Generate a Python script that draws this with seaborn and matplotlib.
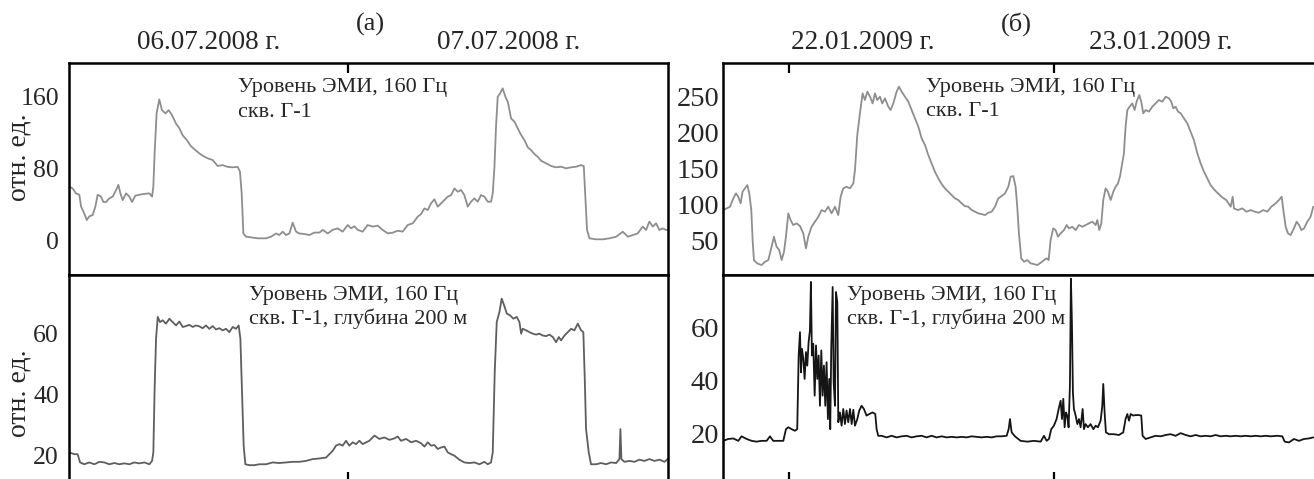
import matplotlib
matplotlib.use("Agg")
import matplotlib.pyplot as plt
import seaborn as sns

# ---------------- DATA ----------------
# Panel (a): 06.07.2008 - 07.07.2008, time in hours since 06.07.2008 00:00
a_top_time = [4.36, 4.39, 4.63, 4.86, 5.10, 5.22, 5.45, 5.62, 5.80, 6.04, 6.23, 6.39, 6.62, 6.79, 6.98, 7.21, 7.45, 7.68,
              7.85, 7.99, 8.15, 8.39, 8.62, 8.81, 9.04, 9.32, 9.68, 10.03, 10.22, 10.31, 10.40, 10.54, 10.73, 10.92,
              11.16, 11.39, 11.62, 11.91, 12.14, 12.38, 12.66, 12.96, 13.27, 13.55, 13.83, 14.14, 14.49, 14.84, 15.19,
              15.55, 15.90, 16.25, 16.41, 16.53, 16.65, 16.84, 17.19, 17.66, 18.24, 18.60, 18.95, 19.18, 19.42, 19.65,
              19.89, 20.12, 20.36, 20.59, 20.94, 21.30, 21.65, 22.00, 22.24, 22.59, 22.94, 23.29, 23.64, 24.00, 24.23,
              24.47, 24.70, 25.05, 25.40,
              25.76, 26.11, 26.46, 26.82, 27.17, 27.52, 27.87, 28.22, 28.58, 28.93, 29.16, 29.40, 29.63, 29.87, 30.10,
              30.34, 30.57, 30.81, 31.04, 31.28, 31.51, 31.75, 31.98, 32.21, 32.45, 32.68, 32.92, 33.15, 33.39, 33.62,
              33.86, 34.09, 34.21, 34.33, 34.44, 34.56, 34.73, 34.91, 35.10, 35.27, 35.50, 35.74, 35.97, 36.21, 36.44,
              36.68, 36.91, 37.14, 37.38, 37.61, 37.97, 38.32, 38.67, 39.02, 39.37, 39.73, 40.08, 40.43, 40.62, 40.74,
              40.85, 41.02, 41.49, 41.96, 42.43, 42.90, 43.37, 43.72, 44.07, 44.42, 44.77, 45.01, 45.24, 45.48, 45.71,
              45.95, 46.18, 46.42, 46.53]
a_top_level = [62, 60, 58, 52.6, 51, 38, 30, 23, 27, 28.5, 38, 51, 49, 43, 43, 47, 49, 56,
               62, 52.6, 45, 52.6, 49, 43, 50, 51, 52, 52.6, 49, 60, 97, 141.5, 157, 145,
               141.5, 145, 139.6, 130, 125, 117, 112, 105, 100.7, 97, 94, 91.5, 89.6, 83, 84,
               82, 81.5, 82, 76.7, 52.6, 8, 4.4, 3.7, 2.6, 2.6, 4.4, 8, 6.3, 10, 6.3,
               8, 20, 10, 8, 7.4, 6.3, 9, 9, 12, 8, 12, 13.7, 10, 17.4, 13.7,
               16, 12, 10, 17.4,
               15.6, 16.7, 11.9, 8.1, 8.9, 11.1, 10, 17.4, 19.3, 26.7, 29.6, 35.9, 34, 41.5, 46,
               37.8, 41.5, 45.2, 48.9, 50.7, 58.1, 54.4, 56.3, 50.7, 37.8, 43.3, 47, 43.3, 50.7, 48.9,
               43.3, 43.3, 52.6, 82.2, 126.7, 160, 163.7, 169.3, 160, 154.4, 135.9, 132.2, 124.8, 117.4, 111.9,
               103.7, 100.7, 96.3, 93.3, 88.9, 85.9, 83, 81.5, 82.2, 80.4, 81.5, 82.2, 84, 83, 45.2,
               11.9, 2.6, 1.5, 1.5, 2.6, 4.4, 10, 4.4, 6.3, 8.1, 15.6, 11.9, 21.1, 15.6, 19.3,
               11.9, 13.7, 11.9, 12]

a_bot_time = [4.36, 4.39, 4.75, 4.98, 5.15, 5.45, 5.80, 6.16, 6.51, 6.86, 7.21, 7.56, 7.92, 8.27, 8.62, 8.97, 9.32,
              9.68, 10.03, 10.22, 10.31, 10.40, 10.50, 10.62, 10.78, 10.97, 11.20, 11.44, 11.67, 11.91, 12.14, 12.38,
              12.61, 12.85, 13.08, 13.31, 13.55, 13.78, 14.02, 14.25, 14.49, 14.72, 14.96, 15.19, 15.43, 15.66, 15.90,
              16.13, 16.32, 16.44, 16.55, 16.67, 16.79, 17.07, 17.42, 17.77, 18.24, 18.71, 19.18, 19.65, 20.12, 20.59,
              21.06, 21.53, 22.00, 22.47, 22.70, 22.94, 23.17, 23.41, 23.64, 23.88, 24.11, 24.35, 24.58, 24.82, 25.05,
              25.40,
              25.52, 25.88, 26.23, 26.58, 26.93, 27.29, 27.52, 27.75, 28.11, 28.46, 28.81, 29.16, 29.40, 29.63, 29.87,
              30.10, 30.34, 30.57, 30.81, 31.04, 31.28, 31.51, 31.86, 32.21, 32.57, 32.92, 33.27, 33.62, 33.86, 34.09,
              34.21, 34.35, 34.49, 34.68, 34.84, 35.01, 35.20, 35.43, 35.67, 35.90, 36.09, 36.21, 36.32, 36.56, 36.79,
              37.03, 37.26, 37.50, 37.73, 37.97, 38.20, 38.44, 38.67, 38.86, 39.02, 39.26, 39.49, 39.73, 39.96, 40.20,
              40.43, 40.59, 40.69, 40.78, 40.97, 41.13, 41.49, 41.84, 42.19, 42.54, 42.90, 43.13, 43.20, 43.27, 43.48,
              43.83, 44.19, 44.54, 44.89, 45.24, 45.60, 45.95, 46.30, 46.53]
a_bot_level = [21.5, 20.9, 20.3, 20.3, 17.6, 17.0, 17.6, 17.0, 17.8, 17.6, 17.0, 17.4, 17.0, 17.3, 17.0, 17.6, 17.3,
               17.6, 17.0, 18.1, 20.9, 41.7, 58.1, 65.3, 63.6, 64.2, 63.1, 64.7, 63.6, 62.5, 63.8, 62.0,
               62.3, 62.7, 62.0, 62.5, 62.2, 61.6, 62.5, 61.4, 62.3, 61.2, 61.6, 60.9, 61.4, 60.3, 62.0,
               61.4, 62.5, 58.1, 41.7, 23.1, 17.0, 16.7, 16.7, 17.0, 17.0, 17.6, 17.4, 17.6, 17.8, 17.8,
               18.1, 18.7, 18.9, 19.2, 20.3, 21.4, 23.1, 23.6, 23.1, 24.7, 23.1, 24.2, 23.6, 24.7, 23.6,
               24.4,
               24.7, 26.4, 25.3, 25.8, 25.0, 25.5, 26.1, 24.7, 25.3, 24.2, 24.7, 23.9, 22.8, 24.2, 23.1,
               23.3, 22.0, 22.5, 22.8, 20.9, 20.3, 19.8, 18.5, 17.6, 17.4, 17.6, 17.0, 17.8, 17.0, 17.6,
               20.9, 47.2, 63.6, 66.9, 71.3, 69.1, 66.4, 65.8, 64.7, 65.3, 63.6, 59.8, 61.4, 60.9, 60.3,
               59.8, 59.5, 59.8, 59.2, 59.0, 59.5, 58.7, 57.0, 58.7, 57.6, 59.2, 60.3, 61.4, 60.9, 63.1,
               60.9, 60.3, 45.0, 28.5, 20.9, 17.0, 17.0, 17.4, 17.0, 17.6, 17.4, 18.7, 28.5, 18.7, 17.8,
               18.1, 17.8, 18.5, 18.1, 18.7, 18.1, 18.5, 17.8, 18.7]

# Panel (б): 22.01.2009 - 23.01.2009, time in hours since 22.01.2009 00:00
b_top_time = [-6.00, -5.95, -5.65, -5.34, -5.04, -4.80, -4.59, -4.38, -4.20, -3.99, -3.77, -3.59, -3.41, -3.29, -3.17,
              -2.87, -2.48, -2.17, -1.87, -1.57, -1.36, -1.12, -0.88, -0.66, -0.45, -0.27, -0.06, 0.15, 0.39, 0.69,
              1.00, 1.30, 1.54, 1.75, 2.05, 2.36, 2.66, 2.96, 3.26, 3.56, 3.86, 4.17, 4.47, 4.68, 4.92, 5.22, 5.53,
              5.83, 5.98, 6.19, 6.43, 6.67, 6.88, 7.10, 7.34, 7.58, 7.79, 8.00, 8.24, 8.45, 8.70, 9.00, 9.21, 9.45,
              9.75, 9.96, 10.21, 10.51, 10.81, 11.11, 11.41, 11.72, 12.02, 12.32, 12.62, 12.92, 13.22, 13.53, 13.83,
              14.13, 14.43, 14.73, 15.04, 15.34, 15.64, 15.94, 16.24, 16.55, 16.85, 17.15, 17.45, 17.75, 18.06, 18.36,
              18.66, 18.96, 19.26, 19.57, 19.87, 20.08, 20.32,
              20.53, 20.68, 20.83, 21.04, 21.29, 21.59, 21.89, 22.19, 22.49, 22.80, 23.10, 23.34, 23.52, 23.70, 23.94,
              24.15, 24.37, 24.61, 24.91, 25.15, 25.36, 25.66, 25.97, 26.27, 26.57, 26.87, 27.17, 27.48, 27.78, 27.93,
              28.11, 28.29, 28.47, 28.68, 28.89, 29.14, 29.38, 29.59, 29.80, 29.98, 30.19, 30.34, 30.49, 30.65, 30.86,
              31.10, 31.31, 31.49, 31.73, 31.91, 32.09, 32.31, 32.61, 32.91, 33.21, 33.51, 33.82, 34.12, 34.42, 34.63,
              34.81, 35.02, 35.24, 35.48, 35.78, 36.08, 36.38, 36.68, 36.99, 37.29, 37.59, 37.89, 38.19, 38.50, 38.86,
              39.25, 39.61, 40.01, 40.19, 40.31, 40.67, 41.06, 41.45, 41.82, 42.18, 42.57, 42.96, 43.33, 43.69, 44.08,
              44.38, 44.63, 44.78, 44.99, 45.20, 45.44, 45.74, 45.98, 46.20, 46.41, 46.65, 46.95, 47.25, 47.49]
b_top_level = [92, 92.6, 94.9, 97.2, 108.8, 115.7, 111.1, 101.9, 118.1, 122.7, 127.3, 115.7, 92.6, 50.9, 23.1,
               18.5, 16.2, 20.8, 23.1, 41.7, 55.6, 41.7, 37.0, 23.1, 34.7, 55.6, 88.0, 78.7, 71.8, 74.1,
               70.4, 60.2, 39.4, 55.6, 69.4, 76.4, 83.3, 92.6, 90.3, 97.2, 88.0, 97.2, 85.6, 111.1, 122.7, 125.0, 122.7,
               129.6, 148.1, 196.8, 226.9, 254.6, 245.4, 256.9, 250.0, 240.7, 254.6, 245.4, 250.0, 240.7, 247.7, 236.1,
               231.5, 240.7, 256.9, 263.9, 256.9, 250.0, 243.1, 231.5, 219.9, 208.3, 192.1, 182.9, 169.0, 157.4, 145.8,
               136.6, 128.7, 122.7, 118.1, 113.4, 108.8, 106.5, 101.9, 98.1, 97.2, 92.6, 90.3, 88.0, 87.0, 85.6, 88.9,
               90.3, 97.2, 108.8, 112.0, 115.7, 125.0, 138.9, 139.8,
               125.0, 97.2, 60.2, 25.5, 20.8, 23.1, 18.5, 17.6, 16.2, 19.4, 23.1, 25.5, 23.1, 50.9, 67.1,
               64.8, 55.6, 60.2, 64.8, 71.8, 67.1, 69.4, 64.8, 71.8, 69.4, 71.8, 74.1, 76.4, 71.8, 78.7,
               64.8, 74.1, 106.5, 122.7, 118.1, 106.5, 118.1, 125.0, 129.6, 138.9, 157.4, 171.3, 208.3, 231.5, 236.1,
               240.7, 231.5, 243.1, 252.3, 243.1, 226.9, 231.5, 229.2, 236.1, 240.7, 245.4, 243.1, 250.0, 247.7, 243.1,
               233.8, 236.1, 229.2, 226.9, 219.9, 213.0, 201.4, 189.8, 171.3, 157.4, 145.8, 136.6, 127.3, 121.3, 115.7,
               110.2, 106.5, 97.2, 111.1, 94.9, 92.6, 94.9, 90.3, 92.6, 90.3, 88.9, 92.6, 90.3, 97.2, 101.9,
               106.5, 111.1, 92.6, 69.4, 60.2, 57.9, 67.1, 76.4, 71.8, 64.8, 67.1, 76.4, 83.3, 97.2]

b_bot_time = [-6.00, -5.95, -5.50, -5.04, -4.59, -4.29, -3.83, -3.38, -2.93, -2.48, -2.02, -1.72, -1.42, -0.97, -0.51,
              -0.27, -0.06, 0.24, 0.54, 0.75, 0.88, 1.00, 1.09, 1.18, 1.30, 1.42, 1.54, 1.66, 1.78, 1.90, 1.99, 2.08,
              2.20, 2.33, 2.45, 2.57, 2.69, 2.81, 2.93, 3.05, 3.17, 3.29, 3.41, 3.53, 3.65, 3.74, 3.83, 3.96, 4.05,
              4.17, 4.26, 4.38, 4.47, 4.62, 4.77, 4.92, 5.07, 5.22, 5.37, 5.53, 5.68, 5.83, 5.98, 6.19, 6.37, 6.58,
              6.79, 7.03, 7.28, 7.58, 7.82, 7.94, 8.09, 8.39, 8.85, 9.30, 9.75, 10.21, 10.66, 11.11, 11.56, 12.02,
              12.47, 12.92, 13.38, 13.83, 14.28, 14.73, 15.19, 15.64, 16.09, 16.55, 17.00, 17.45, 17.90, 18.36, 18.81,
              19.26, 19.72, 19.90, 20.02, 20.17, 20.47,
              20.98, 21.59, 22.19, 22.80, 23.10, 23.34, 23.55, 23.76, 24.00, 24.24, 24.46, 24.61, 24.73, 24.85, 24.97,
              25.09, 25.21, 25.33, 25.45, 25.54, 25.63, 25.72, 25.81, 25.97, 26.12, 26.27, 26.42, 26.60, 26.72, 26.87,
              27.08, 27.32, 27.57, 27.78, 27.99, 28.23, 28.38, 28.47, 28.59, 28.71, 28.99, 29.44, 29.89, 30.28, 30.49,
              30.65, 30.80, 30.95, 31.19, 31.40, 31.70, 31.91, 32.03, 32.31, 32.76, 33.21, 33.67, 34.12, 34.57, 35.02,
              35.48, 35.93, 36.38, 36.84, 37.29, 37.74, 38.19, 38.65, 39.10, 39.55, 40.01, 40.46, 40.91, 41.36, 41.82,
              42.27, 42.72, 43.18, 43.63, 44.23, 44.69, 44.90, 45.29, 45.74, 46.20, 46.65, 47.10, 47.49]
b_bot_level = [17.5, 17.2, 17.9, 18.1, 17.2, 18.9, 17.9, 17.2, 16.9, 17.2, 17.2, 18.9, 17.2, 17.2, 17.2,
               21.6, 22.3, 21.6, 21.0, 21.6, 49.3, 58.1, 43.0, 51.8, 48.1, 40.5, 50.6, 45.5, 54.3, 58.7, 77.0, 49.3,
               53.7, 34.2, 53.1, 40.5, 49.3, 30.4, 51.2, 34.2, 45.5, 30.4, 46.8, 25.4, 40.5, 21.6, 51.8, 75.1, 39.2,
               30.4, 73.2, 69.4, 24.2, 27.9, 22.9, 29.2, 23.5, 28.6, 24.2, 29.2, 23.5, 28.9, 22.9, 25.4, 28.6, 30.4,
               29.2, 26.7, 27.3, 27.9, 27.3, 21.6, 19.1, 19.1, 18.5, 19.1, 18.5, 18.9, 19.1, 18.5, 18.9, 19.1,
               18.5, 19.1, 18.5, 18.9, 18.5, 18.7, 18.5, 18.7, 18.5, 18.9, 18.7, 18.5, 18.7, 18.5, 18.9,
               18.9, 19.1, 21.6, 25.4, 20.4, 18.9,
               17.2, 16.9, 17.2, 16.9, 19.1, 17.2, 17.9, 21.6, 22.9, 25.4, 29.8, 32.3, 25.4, 33.0, 22.3,
               27.9, 26.7, 22.3, 38.0, 78.2, 61.9, 35.5, 29.2, 26.7, 23.5, 25.4, 22.3, 29.2, 21.6, 23.5,
               22.3, 23.5, 21.6, 22.9, 22.3, 24.8, 30.4, 38.6, 27.9, 20.4, 19.7, 19.7, 19.4, 20.4, 25.4,
               27.3, 24.8, 27.3, 26.7, 26.9, 26.9, 26.7, 19.1, 17.9, 18.5, 19.1, 18.9, 19.4, 19.7, 19.1,
               20.1, 19.4, 18.9, 19.4, 18.9, 19.1, 18.9, 19.4, 18.9, 19.1, 18.9, 19.1, 18.9, 19.1, 18.9,
               19.1, 18.9, 19.1, 18.9, 19.1, 18.9, 16.9, 16.6, 17.9, 17.2, 17.9, 18.1, 18.5]

a_day_labels = ["06.07.2008 г.", "07.07.2008 г."]
b_day_labels = ["22.01.2009 г.", "23.01.2009 г."]
panel_labels = ["(а)", "(б)"]
note_top = ["Уровень ЭМИ, 160 Гц", "скв. Г-1"]
note_bot = ["Уровень ЭМИ, 160 Гц", "скв. Г-1, глубина 200 м"]
ylabel_text = "отн. ед."
a_top_ticks = [0, 80, 160]
a_bot_ticks = [20, 40, 60]
b_top_ticks = [50, 100, 150, 200, 250]
b_bot_ticks = [20, 40, 60]

# ---------------- STYLE ----------------
sns.set_style("white")
plt.rcParams['font.family'] = ['Liberation Serif', 'DejaVu Serif']

W, H = 1314, 479
fig = plt.figure(figsize=(W / 100, H / 100), dpi=100)
fig.patch.set_facecolor("white")


def fx(px):
    return px / W


def fy(py):
    return 1 - py / H


top_b, top_t = fy(274.5), fy(62.7)
bot_b, bot_t = fy(481.5), fy(274.5)
aL, aR = 68.7, 667.7
bL, bR = 722.7, 1320

ax_at = fig.add_axes([fx(aL), top_b, fx(aR - aL), top_t - top_b])
ax_ab = fig.add_axes([fx(aL), bot_b, fx(aR - aL), bot_t - bot_b])
ax_bt = fig.add_axes([fx(bL), top_b, fx(bR - bL), top_t - top_b])
ax_bb = fig.add_axes([fx(bL), bot_b, fx(bR - bL), bot_t - bot_b])

gray = "#8e8e8e"
sns.lineplot(x=a_top_time, y=a_top_level, ax=ax_at, color=gray, linewidth=1.3, estimator=None, sort=False)
sns.lineplot(x=a_bot_time, y=a_bot_level, ax=ax_ab, color="#5e5e5e", linewidth=1.3, estimator=None, sort=False)
sns.lineplot(x=b_top_time, y=b_top_level, ax=ax_bt, color=gray, linewidth=1.3, estimator=None, sort=False)
sns.lineplot(x=b_bot_time, y=b_bot_level, ax=ax_bb, color="#151515", linewidth=1.3, estimator=None, sort=False)

ax_at.set_xlim(4.35, 46.53)
ax_ab.set_xlim(4.35, 46.53)
ax_bt.set_xlim(-6.0, 48.1)
ax_bb.set_xlim(-6.0, 48.1)
ax_at.set_ylim(-37.6, 197.8)
ax_ab.set_ylim(11.35, 79.2)
ax_bt.set_ylim(3.1, 297.2)
ax_bb.set_ylim(1.9, 79.8)

ax_at.set_yticks(a_top_ticks)
ax_ab.set_yticks(a_bot_ticks)
ax_bt.set_yticks(b_top_ticks)
ax_bb.set_yticks(b_bot_ticks)

for ax, ticks, top in [(ax_at, [24], True), (ax_ab, [24], False),
                       (ax_bt, [0, 24], True), (ax_bb, [0, 24], False)]:
    ax.set_xticks(ticks)
    if top:
        ax.xaxis.set_ticks_position('top')
    else:
        ax.xaxis.set_ticks_position('bottom')
    ax.tick_params(axis='x', direction='in', length=7, width=1.6, color='black',
                   labelbottom=False, labeltop=False)
    ax.set_xlabel("")
    ax.set_ylabel("")
    for s in ax.spines.values():
        s.set_visible(True)
        s.set_color("black")
        s.set_linewidth(1.8)
    ax.set_facecolor("white")

for ax in (ax_at, ax_ab):
    ax.tick_params(axis='y', direction='in', length=7, width=1.6, color='black',
                   labelsize=18.5, pad=7)
for ax in (ax_bt, ax_bb):
    ax.tick_params(axis='y', direction='in', length=7, width=1.6, color='black',
                   labelsize=20.5, pad=2.5)

ax_at.set_ylabel(ylabel_text, fontsize=20)
ax_ab.set_ylabel(ylabel_text, fontsize=20)
ax_at.yaxis.set_label_coords(-0.062, 0.552)
ax_ab.yaxis.set_label_coords(-0.062, 0.429)

# annotations
ax_at.text(0.283, 0.862, note_top[0], transform=ax_at.transAxes, fontsize=16, va='baseline', ha='left')
ax_at.text(0.283, 0.742, note_top[1], transform=ax_at.transAxes, fontsize=16, va='baseline', ha='left')
ax_ab.text(0.301, 0.875, note_bot[0], transform=ax_ab.transAxes, fontsize=16, va='baseline', ha='left')
ax_ab.text(0.301, 0.761, note_bot[1], transform=ax_ab.transAxes, fontsize=16, va='baseline', ha='left')
ax_bt.text(0.341, 0.860, note_top[0], transform=ax_bt.transAxes, fontsize=16, va='baseline', ha='left')
ax_bt.text(0.341, 0.746, note_top[1], transform=ax_bt.transAxes, fontsize=16, va='baseline', ha='left')
ax_bb.text(0.208, 0.875, note_bot[0], transform=ax_bb.transAxes, fontsize=16, va='baseline', ha='left')
ax_bb.text(0.208, 0.761, note_bot[1], transform=ax_bb.transAxes, fontsize=16, va='baseline', ha='left')

# headers
fig.text(fx(370), fy(24), panel_labels[0], fontsize=19, ha='center', va='center')
fig.text(fx(1016), fy(24), panel_labels[1], fontsize=19, ha='center', va='center')
fig.text(fx(208.7), fy(49), a_day_labels[0], fontsize=19.5, ha='center', va='baseline')
fig.text(fx(508.6), fy(49), a_day_labels[1], fontsize=19.5, ha='center', va='baseline')
fig.text(fx(863), fy(49), b_day_labels[0], fontsize=19.5, ha='center', va='baseline')
fig.text(fx(1161), fy(49), b_day_labels[1], fontsize=19.5, ha='center', va='baseline')

fig.savefig("out.png", dpi=100)
